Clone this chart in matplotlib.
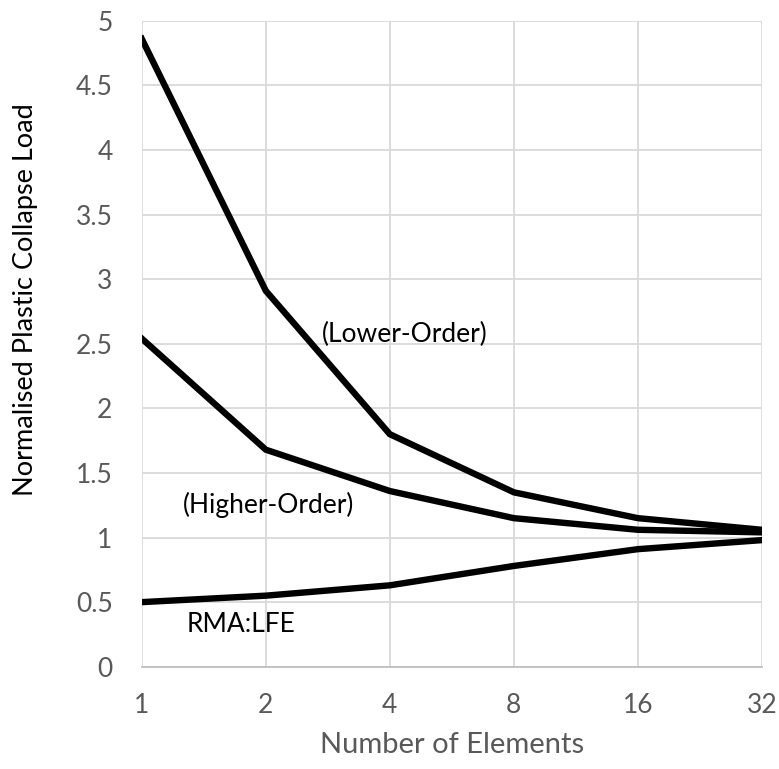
import matplotlib.pyplot as plt

plt.rcParams['font.family'] = ['Lato', 'DejaVu Sans']

# 数据
elements = ['1', '2', '4', '8', '16', '32']
lower_order = [4.86, 2.91, 1.80, 1.35, 1.15, 1.06]
higher_order = [2.54, 1.68, 1.36, 1.15, 1.06, 1.04]
rma_lfe = [0.50, 0.55, 0.63, 0.78, 0.91, 0.98]

fig = plt.figure(figsize=(7.79, 7.69), dpi=100)
ax = fig.add_axes([0.182, 0.133, 0.796, 0.84])

x = range(len(elements))
for ys in (lower_order, higher_order, rma_lfe):
    ax.plot(x, ys, color='black', linewidth=4.6, solid_joinstyle='miter', zorder=3)

# 曲线标注
ax.text(1.45, 2.51, '(Lower-Order)', fontsize=19, va='baseline', ha='left')
ax.text(0.33, 1.19, '(Higher-Order)', fontsize=19, va='baseline', ha='left')
ax.text(0.36, 0.265, 'RMA:LFE', fontsize=19, va='baseline', ha='left')

ax.set_xlim(0, len(elements) - 1)
ax.set_ylim(0, 5)
ax.set_xticks(list(x))
ax.set_xticklabels(elements)
ax.set_yticks([0, 0.5, 1, 1.5, 2, 2.5, 3, 3.5, 4, 4.5, 5])
ax.set_yticklabels(['0', '0.5', '1', '1.5', '2', '2.5', '3', '3.5', '4', '4.5', '5'])

ax.grid(True, color='#d9d9d9', linewidth=1.3, zorder=0)
ax.set_axisbelow(True)
for side in ('top', 'right', 'left'):
    ax.spines[side].set_visible(False)
ax.spines['bottom'].set_color('#bfbfbf')
ax.spines['bottom'].set_linewidth(1.3)
ax.tick_params(length=0, labelsize=19, labelcolor='#595959')
ax.tick_params(axis='x', pad=19)
ax.tick_params(axis='y', pad=21)

ax.set_xlabel('Number of Elements', fontsize=21, color='#595959', labelpad=10)
ax.set_ylabel('Normalised Plastic Collapse Load', fontsize=19.5, color='#000000')
ax.yaxis.set_label_coords(-0.167, 0.568)

fig.savefig('out.png', dpi=100)
